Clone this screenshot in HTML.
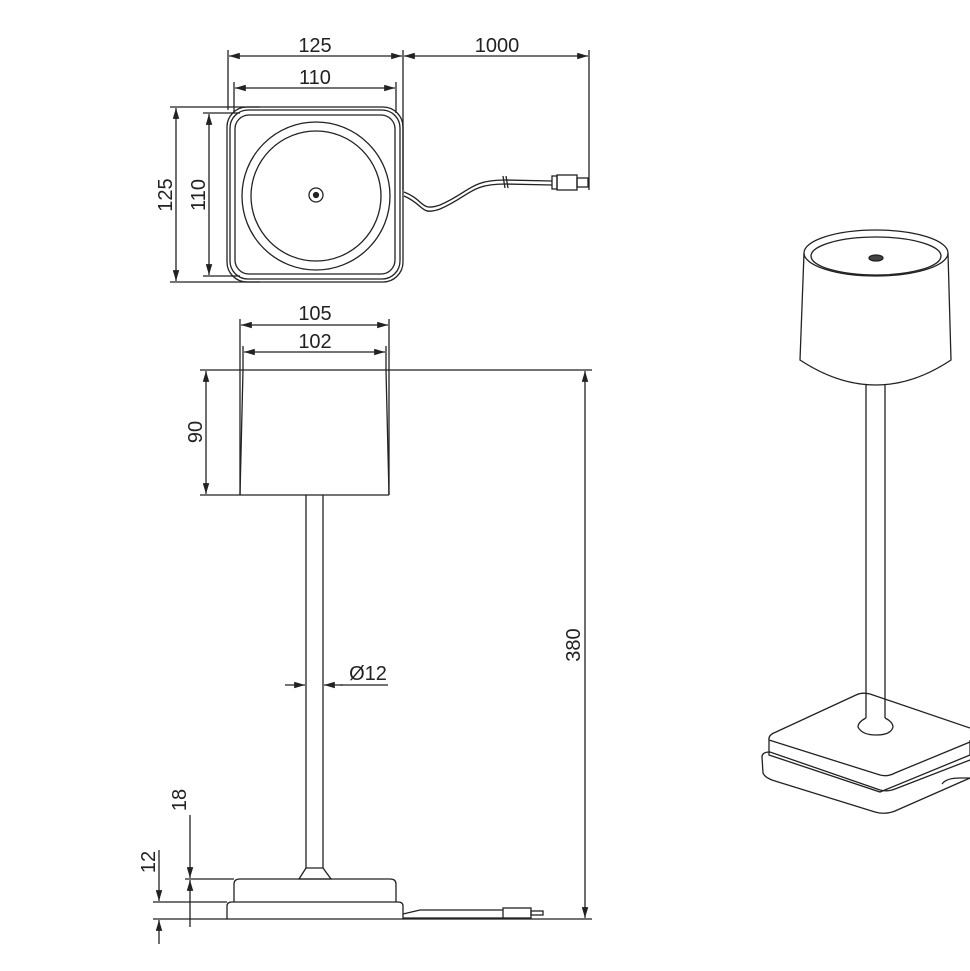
<!DOCTYPE html>
<html><head><style>body{margin:0;background:#fff}svg{display:block}text{font-family:"Liberation Sans",sans-serif;font-size:20px;fill:#222}</style></head>
<body>
<svg width="970" height="971" viewBox="0 0 970 971" xmlns="http://www.w3.org/2000/svg">
<defs>
<marker id="a" viewBox="0 0 10 6" refX="10" refY="3" markerWidth="9" markerHeight="5" orient="auto-start-reverse"><path d="M0,0 L10,3 L0,6 z" fill="#222"/></marker>
</defs>
<g stroke="#222" stroke-width="1.3" fill="none">
<!-- TOP VIEW -->
<line x1="228" y1="50" x2="228" y2="110"/><line x1="403" y1="50" x2="403" y2="190"/><line x1="589" y1="50" x2="589" y2="190"/>
<line x1="229" y1="56" x2="402" y2="56" marker-start="url(#a)" marker-end="url(#a)"/>
<line x1="404" y1="56" x2="588" y2="56" marker-start="url(#a)" marker-end="url(#a)"/>
<line x1="234" y1="82" x2="234" y2="113"/><line x1="396" y1="82" x2="396" y2="113"/>
<line x1="235" y1="88" x2="395" y2="88" marker-start="url(#a)" marker-end="url(#a)"/>
<line x1="170" y1="107" x2="260" y2="107"/><line x1="170" y1="282" x2="260" y2="282"/>
<line x1="176" y1="108" x2="176" y2="281" marker-start="url(#a)" marker-end="url(#a)"/>
<line x1="203" y1="113" x2="240" y2="113"/><line x1="203" y1="276" x2="240" y2="276"/>
<line x1="209" y1="114" x2="209" y2="275" marker-start="url(#a)" marker-end="url(#a)"/>
<rect x="227" y="107" width="176" height="175" rx="20"/>
<rect x="230" y="110" width="170" height="169" rx="18"/>
<rect x="235" y="115" width="160" height="159" rx="14"/>
<circle cx="316" cy="196" r="74"/><circle cx="316" cy="196" r="65"/>
<circle cx="316" cy="195" r="7"/><circle cx="316" cy="195" r="2.5" fill="#222"/>
<path d="M404,192 C425,200 420,212 440,205 C470,192 470,180 505,180 L552,181"/>
<path d="M404,196 C425,205 420,216 440,209 C470,196 470,184 505,184 L552,185"/>
<line x1="503" y1="176" x2="505" y2="188"/><line x1="506" y1="176" x2="508" y2="188"/>
<rect x="552" y="176" width="5" height="13"/><rect x="557" y="175" width="20" height="15"/><rect x="577" y="178" width="11" height="9"/>
<!-- SIDE VIEW -->
<line x1="240" y1="319" x2="240" y2="495"/><line x1="389" y1="319" x2="389" y2="495"/>
<line x1="241" y1="325" x2="388" y2="325" marker-start="url(#a)" marker-end="url(#a)"/>
<line x1="243" y1="346" x2="243" y2="370"/><line x1="386" y1="346" x2="386" y2="370"/>
<line x1="244" y1="352" x2="385" y2="352" marker-start="url(#a)" marker-end="url(#a)"/>
<line x1="200" y1="370" x2="592" y2="370"/><line x1="200" y1="495" x2="389" y2="495"/>
<path d="M243,370 L240,495 M386,370 L389,495"/>
<line x1="206" y1="371" x2="206" y2="494" marker-start="url(#a)" marker-end="url(#a)"/>
<line x1="585" y1="371" x2="585" y2="918" marker-start="url(#a)" marker-end="url(#a)"/>
<line x1="306" y1="495" x2="306" y2="868"/><line x1="323" y1="495" x2="323" y2="868"/>
<line x1="285" y1="685" x2="305" y2="685" marker-end="url(#a)"/>
<line x1="343" y1="685" x2="324" y2="685" marker-end="url(#a)"/>
<line x1="340" y1="685" x2="388" y2="685"/>
<path d="M306,868 L299,879 L331,879 L323,868 Z"/>
<path d="M234,902 L234,884 Q234,879 240,879 L390,879 Q396,879 396,884 L396,902"/>
<path d="M227,919 L227,906 Q227,902 232,902 L398,902 Q403,902 403,906 L403,919 Z"/>
<line x1="403" y1="919" x2="592" y2="919"/>
<path d="M403,914 L420,910 L503,910 M403,918 L503,918"/>
<rect x="503" y="908" width="28" height="10"/><rect x="531" y="911" width="12" height="4"/>
<line x1="185" y1="879" x2="234" y2="879"/><line x1="153" y1="902" x2="227" y2="902"/><line x1="153" y1="919" x2="227" y2="919"/>
<line x1="190" y1="815" x2="190" y2="878" marker-end="url(#a)"/><line x1="190" y1="927" x2="190" y2="880" marker-end="url(#a)"/>
<line x1="159" y1="850" x2="159" y2="901" marker-end="url(#a)"/><line x1="159" y1="944" x2="159" y2="920" marker-end="url(#a)"/>
<!-- 3D VIEW -->
<path d="M804,253 L800,360 Q876,410 951,360 L948,253" fill="#fff"/>
<ellipse cx="876" cy="253" rx="72" ry="23" fill="#fff"/>
<ellipse cx="876" cy="256" rx="65" ry="19"/>
<ellipse cx="876" cy="258" rx="7" ry="3" fill="#444"/>
<path d="M762,757 L763,773 Q765,778 775,781 L875,812 Q885,815 895,811 L970,778"/>
<path d="M762,757 Q762,752 770,752 L880,790 Q888,792 895,789 L970,760"/>
<path d="M769,740 L769,755 L880,792 L970,755 L970,740"/>
<path d="M769,740 Q768,735 776,732 L856,695 Q862,692 870,694 L970,728 M769,740 L880,775 Q888,777 895,773 L970,742" fill="#fff"/>
<line x1="866" y1="384" x2="866" y2="720"/><line x1="885" y1="384" x2="885" y2="720"/>
<path d="M866,718 Q858,722 858,727 Q862,735 876,735 Q891,735 893,727 Q893,722 885,718" fill="#fff"/>
<path d="M942,784 Q946,778 960,778 L970,778"/>
</g>
<text x="315" y="52" text-anchor="middle">125</text>
<text x="497" y="52" text-anchor="middle">1000</text>
<text x="315" y="84" text-anchor="middle">110</text>
<text transform="translate(172,195) rotate(-90)" text-anchor="middle">125</text>
<text transform="translate(205,195) rotate(-90)" text-anchor="middle">110</text>
<text x="315" y="320" text-anchor="middle">105</text>
<text x="315" y="348" text-anchor="middle">102</text>
<text transform="translate(202,432) rotate(-90)" text-anchor="middle">90</text>
<text x="368" y="680" text-anchor="middle">Ø12</text>
<text transform="translate(580,645) rotate(-90)" text-anchor="middle">380</text>
<text transform="translate(186,800) rotate(-90)" text-anchor="middle">18</text>
<text transform="translate(155,862) rotate(-90)" text-anchor="middle">12</text>
</svg>
</body></html>
